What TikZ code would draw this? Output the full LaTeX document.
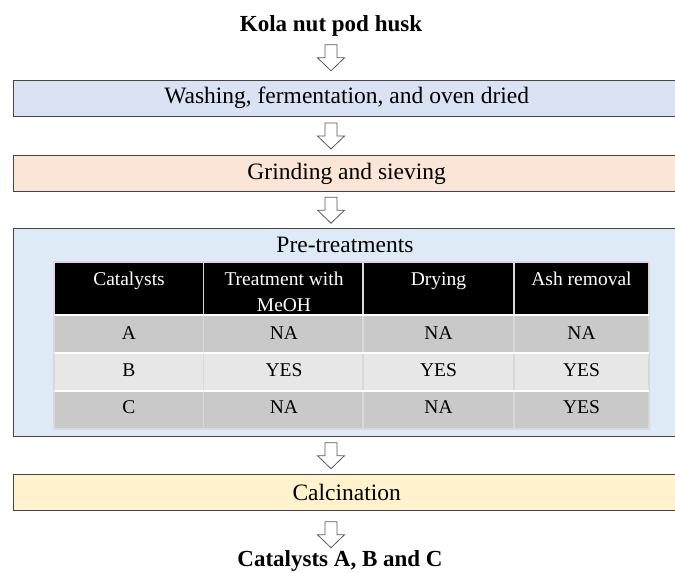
\documentclass[tikz,border=0pt]{standalone}
\usepackage{fontspec}
\setmainfont{Liberation Serif}
\usetikzlibrary{calc}
\definecolor{washblue}{HTML}{DAE3F3}
\definecolor{grindpeach}{HTML}{FBE5D6}
\definecolor{preblue}{HTML}{DEEBF7}
\definecolor{calcyellow}{HTML}{FFF2CC}
\definecolor{rowdark}{HTML}{C9C9C9}
\definecolor{rowlight}{HTML}{E7E7E7}
\definecolor{edgegray}{HTML}{454545}
\definecolor{arrowgray}{HTML}{595959}
\tikzset{
  stepbox/.style={draw=edgegray, line width=1.4pt, minimum width=666pt, anchor=north west, inner sep=0pt,
    font=\fontsize{23.5}{28}\selectfont},
  endtext/.style={font=\bfseries\fontsize{23}{27}\selectfont, inner sep=0pt},
  celltext/.style={font=\fontsize{19.5}{26}\selectfont, inner sep=0pt, align=center},
  hollowarrow/.pic={
    \draw[arrowgray, fill=white, line width=0.8pt, line join=miter]
      (-6,-13) -- (6,-13) -- (6,0) -- (13.5,0) -- (0,13) -- (-13.5,0) -- (-6,0) -- cycle;
  }
}
\begin{document}
\begin{tikzpicture}[x=1pt, y=-1pt]
\useasboundingbox (0,0) rectangle (675,573);
\fill[white] (0,0) rectangle (675,573);

\node[endtext] (husk) at (331,25.5) {Kola nut pod husk};
\node[stepbox, fill=washblue, minimum height=36pt] (wash) at (13,79.5) {Washing, fermentation, and oven dried};
\node[stepbox, fill=grindpeach, minimum height=36pt] (grind) at (13,155) {Grinding and sieving};
\node[stepbox, fill=preblue, minimum height=208pt] (pre) at (13,228) {};
\node[stepbox, fill=calcyellow, minimum height=36pt] (calc) at (13,474) {Calcination};
\node[endtext] (final) at (340,561) {Catalysts A, B and C};

\node[font=\fontsize{23.5}{28}\selectfont] (pretitle) at (345,245) {Pre-treatments};

\fill[black] (54,262) rectangle (649,315);
\foreach \top/\bot/\shade in {315/353/rowdark, 353/391/rowlight, 391/429/rowdark}
  \fill[\shade] (54,\top) rectangle (649,\bot);
\draw[white!85!black, line width=1.2pt] (54,262) rectangle (649,429);
\foreach \xline in {203.5,363,514}
  \draw[white!85!black, line width=1.2pt] (\xline,262) -- (\xline,429);
\foreach \yline in {315,353,391}
  \draw[white, line width=1.5pt] (54,\yline) -- (649,\yline);

\node[celltext, text=white, anchor=north] (headcat) at (129,272) {Catalysts};
\node[celltext, text=white, anchor=north] (headmeoh) at (284,272) {Treatment with\\MeOH};
\node[celltext, text=white, anchor=north] (headdry) at (438.5,272) {Drying};
\node[celltext, text=white, anchor=north] (headash) at (581.5,272) {Ash removal};

\foreach \r/\y/\m/\d/\a in {A/333/NA/NA/NA, B/370/YES/YES/YES, C/407.5/NA/NA/YES} {
  \node[celltext] (cat\r) at (129,\y) {\r};
  \node[celltext] (meoh\r) at (284,\y) {\m};
  \node[celltext] (dry\r) at (438.5,\y) {\d};
  \node[celltext] (ash\r) at (581.5,\y) {\a};
}

\pic at ($(husk.south)!0.5!(wash.north -| husk)$) {hollowarrow};
\pic at ($(wash.south -| husk)!0.5!(grind.north -| husk)$) {hollowarrow};
\pic at ($(grind.south -| husk)!0.5!(pre.north -| husk)$) {hollowarrow};
\pic at ($(pre.south -| husk)!0.5!(calc.north -| husk)$) {hollowarrow};
\pic at ($(calc.south -| husk)!0.6!(final.north -| husk)$) {hollowarrow};
\end{tikzpicture}
\end{document}
